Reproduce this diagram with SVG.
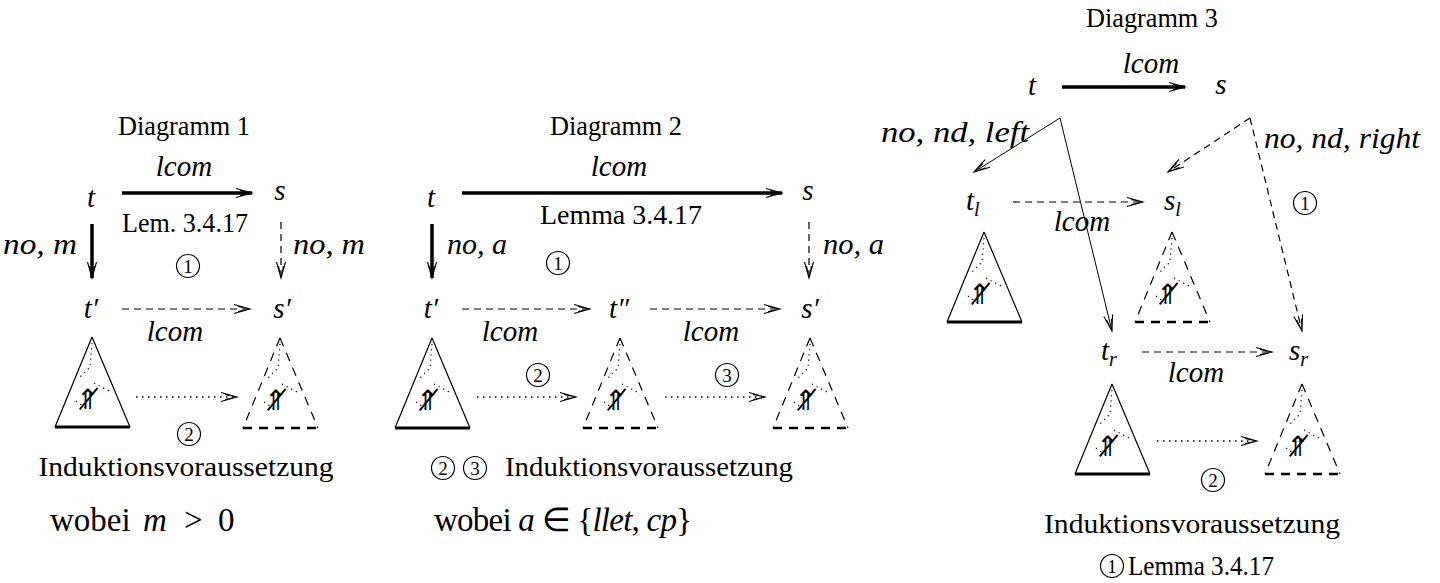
<svg xmlns="http://www.w3.org/2000/svg" width="1440" height="583" viewBox="0 0 1440 583" font-family="'Liberation Serif', 'Times New Roman', serif">
<style>
text{font-family:"Liberation Serif","Times New Roman",serif;fill:#000}
.t{font-size:27px}
.m{font-size:29px;font-style:italic}
.w{font-size:33px}
.c{text-anchor:middle}
.e{text-anchor:end}
.num{font-size:19px;text-anchor:middle}
.sym{font-family:"DejaVu Sans",sans-serif;font-size:28px;text-anchor:middle}
.thick{stroke:#000;stroke-width:3.5;fill:none}
.thin{stroke:#000;stroke-width:1;fill:none}
.dash{stroke:#000;stroke-width:1.2;fill:none;stroke-dasharray:7 5}
.dot{stroke:#000;stroke-width:1.3;fill:none;stroke-dasharray:1.5 4.5}
.tri{stroke:#000;stroke-width:1.2;fill:none}
.trib{stroke:#000;stroke-width:2.8;fill:none}
.trid{stroke:#000;stroke-width:1.2;fill:none;stroke-dasharray:9 7}
.tribd{stroke:#000;stroke-width:2.4;fill:none;stroke-dasharray:9 7}
.idot{stroke:#000;stroke-width:1.2;fill:none;stroke-dasharray:1.2 4}
.circ{stroke:#000;stroke-width:1.2;fill:none}
</style>
<defs>
<marker id="ah" viewBox="-17 -6 19 12" refX="0" refY="0" markerWidth="19" markerHeight="12" markerUnits="userSpaceOnUse" orient="auto">
<path d="M-16,-4.5 L0,0 L-16,4.5 M-12,-2.5 L0,0 L-12,2.5" fill="none" stroke="#000" stroke-width="1.1"/>
</marker>
<g id="treeS">
<path class="tri" d="M0,0 L-37,90 M0,0 L38,90"/>
<path class="trib" d="M-37,90 L38,90"/>
<path class="idot" d="M0,6 L-2,30 L-14,42 M2,46 L19,55 M-16,64 L-6,71"/>
<text class="sym" x="-4" y="72">⇑̸</text>
</g>
<g id="treeD">
<path class="trid" d="M0,0 L-37,90 M0,0 L38,90"/>
<path class="tribd" d="M-37,90 L38,90"/>
<path class="idot" d="M0,6 L-2,30 L-14,42 M2,46 L19,55 M-16,64 L-6,71"/>
<text class="sym" x="-4" y="72">⇑̸</text>
</g>
</defs>

<!-- ================= Diagramm 1 ================= -->
<g id="d1-title"><text class="t c" x="184" y="135" textLength="132" lengthAdjust="spacingAndGlyphs">Diagramm 1</text></g>
<g id="d1-t"><text class="m c" x="91" y="207">t</text></g>
<g id="d1-s"><text class="m c" x="280" y="200">s</text></g>
<g id="d1-t1"><text class="m c" x="91" y="318">t′</text></g>
<g id="d1-s1"><text class="m c" x="282" y="318">s′</text></g>
<g id="d1-treeL"><use href="#treeS" x="92" y="337"/></g>
<g id="d1-treeR"><use href="#treeD" x="280" y="338"/></g>
<g id="d1-connectors">
<line class="thick" x1="122" y1="193" x2="252" y2="193" marker-end="url(#ah)"/>
<line class="thick" x1="92" y1="224" x2="92" y2="278" marker-end="url(#ah)"/>
<line class="dash" x1="281" y1="222" x2="281" y2="278" marker-end="url(#ah)"/>
<line class="dash" x1="122" y1="309" x2="250" y2="309" marker-end="url(#ah)"/>
<line class="dot" x1="136" y1="397" x2="237" y2="397" marker-end="url(#ah)"/>
</g>
<g id="d1-labels">
<text class="m c" x="184" y="176">lcom</text>
<text class="t c" x="185" y="232" textLength="126" lengthAdjust="spacingAndGlyphs">Lem. 3.4.17</text>
<text class="m" x="3" y="254" textLength="74" lengthAdjust="spacingAndGlyphs">no, m</text>
<text class="m" x="293" y="254" textLength="72" lengthAdjust="spacingAndGlyphs">no, m</text>
<circle class="circ" cx="188" cy="266" r="11.5"/><text class="num" x="188" y="272.5">1</text>
<text class="m c" x="175" y="341">lcom</text>
<circle class="circ" cx="189" cy="434" r="11.5"/><text class="num" x="189" y="440.5">2</text>
<text class="t c" x="186" y="476" textLength="295" lengthAdjust="spacingAndGlyphs">Induktionsvoraussetzung</text>
<text class="w" y="531"><tspan x="50">wobei</tspan><tspan x="143" font-style="italic">m</tspan><tspan x="184">&gt;</tspan><tspan x="218">0</tspan></text>
</g>

<!-- ================= Diagramm 2 ================= -->
<g id="d2-title"><text class="t c" x="616" y="135" textLength="132" lengthAdjust="spacingAndGlyphs">Diagramm 2</text></g>
<g id="d2-t"><text class="m c" x="431" y="207">t</text></g>
<g id="d2-s"><text class="m c" x="808" y="200">s</text></g>
<g id="d2-t1"><text class="m c" x="431" y="318">t′</text></g>
<g id="d2-t2"><text class="m c" x="619" y="318">t″</text></g>
<g id="d2-s1"><text class="m c" x="810" y="318">s′</text></g>
<g id="d2-treeL"><use href="#treeS" x="432" y="338"/></g>
<g id="d2-treeM"><use href="#treeD" x="620" y="338"/></g>
<g id="d2-treeR"><use href="#treeD" x="810" y="338"/></g>
<g id="d2-connectors">
<line class="thick" x1="462" y1="193" x2="782" y2="193" marker-end="url(#ah)"/>
<line class="thick" x1="432" y1="224" x2="432" y2="278" marker-end="url(#ah)"/>
<line class="dash" x1="809" y1="222" x2="809" y2="278" marker-end="url(#ah)"/>
<line class="dash" x1="462" y1="309" x2="590" y2="309" marker-end="url(#ah)"/>
<line class="dash" x1="650" y1="309" x2="780" y2="309" marker-end="url(#ah)"/>
<line class="dot" x1="477" y1="397" x2="576" y2="397" marker-end="url(#ah)"/>
<line class="dot" x1="665" y1="397" x2="765" y2="397" marker-end="url(#ah)"/>
</g>
<g id="d2-labels">
<text class="m c" x="619" y="176">lcom</text>
<text class="t c" x="621" y="224" textLength="162" lengthAdjust="spacingAndGlyphs">Lemma 3.4.17</text>
<text class="m" x="447" y="254" textLength="60" lengthAdjust="spacingAndGlyphs">no, a</text>
<text class="m" x="823" y="254" textLength="61" lengthAdjust="spacingAndGlyphs">no, a</text>
<circle class="circ" cx="558" cy="263" r="11.5"/><text class="num" x="558" y="269.5">1</text>
<text class="m c" x="510" y="341">lcom</text>
<text class="m c" x="711" y="341">lcom</text>
<circle class="circ" cx="538" cy="375" r="11.5"/><text class="num" x="538" y="381.5">2</text>
<circle class="circ" cx="727" cy="375" r="11.5"/><text class="num" x="727" y="381.5">3</text>
<circle class="circ" cx="443" cy="468" r="11.5"/><text class="num" x="443" y="474.5">2</text>
<circle class="circ" cx="475" cy="468" r="11.5"/><text class="num" x="475" y="474.5">3</text>
<text class="t" x="505" y="476" textLength="288" lengthAdjust="spacingAndGlyphs">Induktionsvoraussetzung</text>
<text class="w" x="434" y="531" textLength="258" lengthAdjust="spacing">wobei <tspan font-style="italic">a</tspan> ∈ {<tspan font-style="italic">llet</tspan>, <tspan font-style="italic">cp</tspan>}</text>
</g>

<!-- ================= Diagramm 3 ================= -->
<g id="d3-title"><text class="t c" x="1152" y="27" textLength="132" lengthAdjust="spacingAndGlyphs">Diagramm 3</text></g>
<g id="d3-t"><text class="m c" x="1032" y="95">t</text></g>
<g id="d3-s"><text class="m c" x="1221" y="94">s</text></g>
<g id="d3-tl"><text class="m" x="966" y="210">t<tspan dy="6" font-size="20">l</tspan></text></g>
<g id="d3-sl"><text class="m" x="1164" y="210">s<tspan dy="6" font-size="20">l</tspan></text></g>
<g id="d3-tr"><text class="m" x="1101" y="360">t<tspan dy="6" font-size="20">r</tspan></text></g>
<g id="d3-sr"><text class="m" x="1289" y="360">s<tspan dy="6" font-size="20">r</tspan></text></g>
<g id="d3-treeTl"><use href="#treeS" x="984" y="232"/></g>
<g id="d3-treeSl"><use href="#treeD" x="1172" y="232"/></g>
<g id="d3-treeTr"><use href="#treeS" x="1112" y="384"/></g>
<g id="d3-treeSr"><use href="#treeD" x="1302" y="384"/></g>
<g id="d3-connectors">
<line class="thick" x1="1062" y1="87" x2="1185" y2="87" marker-end="url(#ah)"/>
<path class="thin" d="M1060,118 L974,172" marker-end="url(#ah)"/>
<path class="thin" d="M1060,118 L1112,331" marker-end="url(#ah)"/>
<path class="dash" d="M1250,118 L1168,172" marker-end="url(#ah)"/>
<path class="dash" d="M1250,118 L1302,331" marker-end="url(#ah)"/>
<line class="dash" x1="1013" y1="202" x2="1143" y2="202" marker-end="url(#ah)"/>
<line class="dash" x1="1142" y1="352" x2="1272" y2="352" marker-end="url(#ah)"/>
<line class="dot" x1="1157" y1="441" x2="1257" y2="441" marker-end="url(#ah)"/>
</g>
<g id="d3-labels">
<text class="m c" x="1151" y="73">lcom</text>
<text class="m e" x="1029" y="142" textLength="148" lengthAdjust="spacingAndGlyphs">no, nd, left</text>
<text class="m" x="1264" y="148" textLength="156" lengthAdjust="spacingAndGlyphs">no, nd, right</text>
<circle class="circ" cx="1305" cy="203" r="11.5"/><text class="num" x="1305" y="209.5">1</text>
<text class="m c" x="1082" y="231">lcom</text>
<text class="m c" x="1196" y="382">lcom</text>
<circle class="circ" cx="1213" cy="480" r="11.5"/><text class="num" x="1213" y="486.5">2</text>
<text class="t c" x="1192" y="533" textLength="296" lengthAdjust="spacingAndGlyphs">Induktionsvoraussetzung</text>
<circle class="circ" cx="1112" cy="566" r="11.5"/><text class="num" x="1112" y="572.5">1</text>
<text class="t" x="1128" y="575" textLength="146" lengthAdjust="spacingAndGlyphs">Lemma 3.4.17</text>
</g>
</svg>
